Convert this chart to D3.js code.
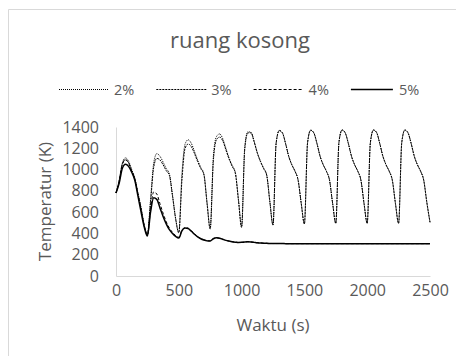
<!DOCTYPE html>
<head>
    <meta charset="UTF-8">
    <title>ruang kosong</title>
</head>
<style>
    body { margin: 0; background: #fff; }
    text { font-family: "Open Sans", "Noto Sans", sans-serif; fill: #595959; }
    .axis .domain { stroke: #d9d9d9; }
    .axis .tick line { display: none; }
</style>
<body>
<script src="https://d3js.org/d3.v7.min.js"></script>
<script>
    // waktu (s)
    var waktu = [0,25,50,75,100,125,150,175,200,225,250,275,300,325,350,375,400,425,450,475,500,
        525,550,575,600,625,650,675,700,725,750,775,800,825,850,875,900,925,950,975,1000,
        1025,1050,1075,1100,1125,1150,1175,1200,1225,1250,1275,1300,1325,1350,1375,1400,1425,1450,1475,1500,
        1525,1550,1575,1600,1625,1650,1675,1700,1725,1750,1775,1800,1825,1850,1875,1900,1925,1950,1975,2000,
        2025,2050,2075,2100,2125,2150,2175,2200,2225,2250,2275,2300,2325,2350,2375,2400,2425,2450,2475,2500];

    var suhu2 = [780,900,1060,1110,1080,1000,920,780,640,480,395,720,1060,1150,1125,1070,1010,960,760,540,410,
        960,1240,1280,1245,1170,1090,1020,960,690,450,1120,1310,1335,1290,1200,1110,1040,975,720,465,
        1210,1355,1350,1265,1160,1080,1015,950,700,480,1250,1368,1345,1245,1125,1045,985,900,680,490,
        1250,1370,1345,1245,1125,1045,985,900,680,495,1255,1372,1345,1245,1125,1045,985,900,680,495,
        1250,1372,1348,1245,1125,1045,985,900,680,495,1252,1372,1345,1245,1125,1045,985,900,690,505];

    var suhu3 = [780,890,1045,1095,1065,990,910,770,630,470,390,690,1020,1105,1090,1045,990,945,750,535,405,
        900,1200,1240,1215,1150,1075,1010,950,680,440,1080,1280,1305,1270,1185,1100,1030,965,710,455,
        1190,1345,1345,1260,1155,1075,1010,945,695,478,1248,1366,1345,1245,1125,1045,985,900,680,490,
        1250,1370,1345,1245,1125,1045,985,900,680,495,1255,1372,1345,1245,1125,1045,985,900,680,495,
        1250,1372,1348,1245,1125,1045,985,900,680,495,1252,1372,1345,1245,1125,1045,985,900,690,505];

    var suhu4 = [780,890,1050,1090,1060,985,905,765,620,470,385,620,790,770,680,590,510,450,410,380,365,
        430,455,450,425,395,370,352,340,332,330,352,360,355,345,335,328,322,318,315,316,
        320,322,320,316,312,310,308,307,306,305,305,305,305,304,304,304,304,304,304,304,
        304,304,304,304,304,304,304,304,304,304,304,304,304,304,304,304,304,304,304,304,
        304,304,304,304,304,304,304,304,304,304,304,304,304,304,304,304,304,304,304,304];

    var suhu5 = [780,870,1010,1050,1030,975,900,750,600,460,375,600,735,720,640,560,490,435,400,372,357,
        425,450,445,420,392,368,350,338,330,328,350,360,355,345,335,328,322,318,315,316,
        320,322,320,316,312,310,308,307,306,305,305,305,305,304,304,304,304,304,304,304,
        304,304,304,304,304,304,304,304,304,304,304,304,304,304,304,304,304,304,304,304,
        304,304,304,304,304,304,304,304,304,304,304,304,304,304,304,304,304,304,304,304];

    var labelSeri = ["2%", "3%", "4%", "5%"];
    var xTicks = [0, 500, 1000, 1500, 2000, 2500];
    var yTicks = [0, 200, 400, 600, 800, 1000, 1200, 1400];

    var seri = [
        {nama: labelSeri[0], nilai: suhu2, dash: "1,1", lebar: 1},
        {nama: labelSeri[1], nilai: suhu3, dash: "2,1", lebar: 1},
        {nama: labelSeri[2], nilai: suhu4, dash: "3,2", lebar: 1},
        {nama: labelSeri[3], nilai: suhu5, dash: null, lebar: 1.5}
    ];

    var W = 456, H = 356;
    var margin = {top: 127, right: 26, bottom: 80, left: 116},
        width = W - margin.left - margin.right,
        height = H - margin.top - margin.bottom;

    var svg = d3.select("body").append("svg")
        .attr("width", W)
        .attr("height", H);

    // bingkai chart (hanya kiri & atas yang kelihatan)
    svg.append("path")
        .attr("d", "M8.5," + H + "V9.5H" + W)
        .attr("fill", "none")
        .attr("stroke", "#d9d9d9");

    svg.append("text")
        .attr("x", 240)
        .attr("y", 48)
        .attr("text-anchor", "middle")
        .style("font-size", "22px")
        .text("ruang kosong");

    var x = d3.scaleLinear().domain([0, 2500]).range([0, width]);
    var y = d3.scaleLinear().domain([0, 1400]).range([height, 0]);

    var g = svg.append("g")
        .attr("transform", "translate(" + margin.left + "," + margin.top + ")");

    g.append("g")
        .attr("class", "axis")
        .attr("transform", "translate(0," + height + ")")
        .call(d3.axisBottom(x).tickValues(xTicks).tickFormat(d3.format("d")).tickSize(0).tickPadding(9))
        .call(function(s) { s.selectAll("text").style("font-size", "16px").style("font-family", null); });

    g.append("g")
        .attr("class", "axis")
        .call(d3.axisLeft(y).tickValues(yTicks).tickFormat(d3.format("d")).tickSize(0).tickPadding(17))
        .call(function(s) { s.selectAll("text").style("font-size", "16px").style("font-family", null); });

    var line = d3.line()
        .x(function(d, i) { return x(waktu[i]); })
        .y(function(d) { return y(d); })
        .curve(d3.curveMonotoneX);

    g.selectAll(".seri")
        .data(seri)
        .enter().append("path")
        .attr("class", "seri")
        .attr("d", function(d) { return line(d.nilai); })
        .attr("fill", "none")
        .attr("stroke", "#000")
        .attr("stroke-width", function(d) { return d.lebar; })
        .attr("stroke-dasharray", function(d) { return d.dash; });

    // judul sumbu
    svg.append("text")
        .attr("x", margin.left + width / 2)
        .attr("y", 331)
        .attr("text-anchor", "middle")
        .style("font-size", "17px")
        .text("Waktu (s)");

    svg.append("text")
        .attr("transform", "translate(51," + (margin.top + height / 2) + ") rotate(-90)")
        .attr("text-anchor", "middle")
        .style("font-size", "17px")
        .text("Temperatur (K)");

    // legenda
    var legend = svg.append("g")
        .attr("transform", "translate(59,89.5)");

    var item = legend.selectAll(".item")
        .data(seri)
        .enter().append("g")
        .attr("class", "item")
        .attr("transform", function(d, i) { return "translate(" + (i * 97.3) + ",0)"; });

    item.append("line")
        .attr("x1", 0).attr("x2", function(d, i) { return i === 3 ? 42 : 50; })
        .attr("y1", 0).attr("y2", 0)
        .attr("stroke", "#000")
        .attr("stroke-width", function(d) { return d.lebar; })
        .attr("stroke-dasharray", function(d) { return d.dash; });

    item.append("text")
        .attr("x", function(d, i) { return i === 3 ? 48 : 55; })
        .attr("y", 5)
        .style("font-size", "14.5px")
        .text(function(d) { return d.nama; });
</script>
</body>
